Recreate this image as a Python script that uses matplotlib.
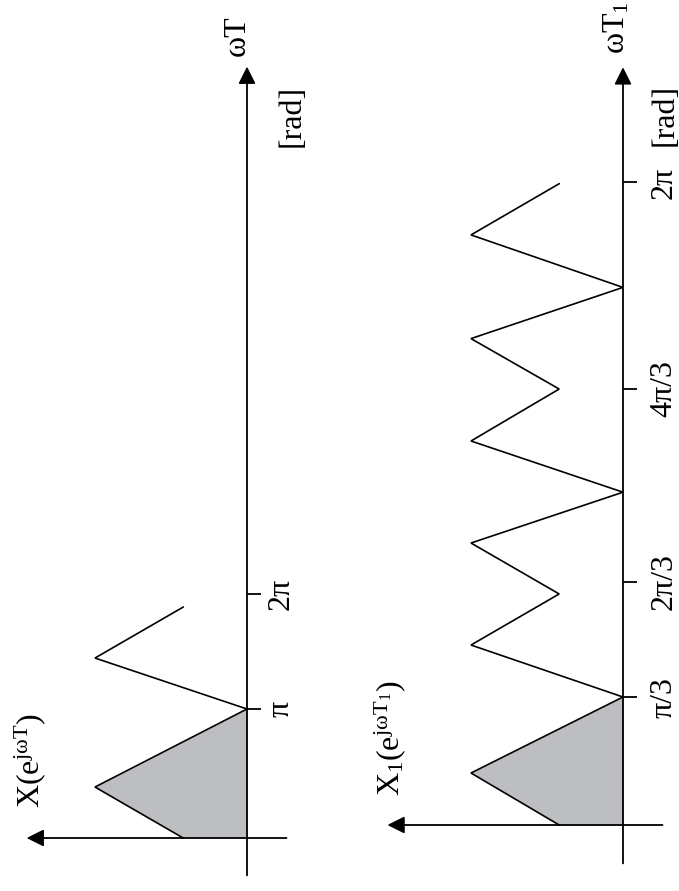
import matplotlib
matplotlib.use("Agg")
import matplotlib.pyplot as plt

plt.rcParams['font.family'] = ['Liberation Serif', 'DejaVu Serif']
plt.rcParams['mathtext.fontset'] = 'custom'
plt.rcParams['mathtext.rm'] = 'Liberation Serif'
plt.rcParams['mathtext.it'] = 'Liberation Serif:italic'

# sketch units: omega axis in units of the first tick, amplitude normalised to peak = 1
omega_a = [0, 0.395, 1.0, 1.395, 1.79]
amp_a = [0.42, 1.0, 0.0, 1.0, 0.42]
ticks_a = [1.0, 1.89]
tick_labels_a = ['π', '2π']

omega_b = [0, 0.406, 1.0, 1.406, 1.805, 2.203, 2.60, 3.0, 3.406, 3.80, 4.20, 4.61, 5.01]
amp_b = [0.42, 1.0, 0.0, 1.0, 0.42, 1.0, 0.0, 1.0, 0.42, 1.0, 0.0, 1.0, 0.42]
ticks_b = [1.0, 1.90, 3.41, 5.02]
tick_labels_b = ['π/3', '2π/3', '4π/3', '2π']

W, H = 679, 891
fig = plt.figure(figsize=(W / 100, H / 100), dpi=100)
GRAY = '#bdbec1'
FS = 23


def panel(x0, x1, ox, oy, sx, sy):
    ax = fig.add_axes([x0 / W, 0, (x1 - x0) / W, 1])
    ax.set_xlim((ox - x0) / sx, (ox - x1) / sx)
    ax.set_ylim((oy - H) / sy, oy / sy)
    ax.axis('off')
    return ax


def draw(ax, omega, amp, ticks, labels, ylab, xlab, top, bottom, right, left, lab_off, ylab_pos, xlab_pos, rad_pos):
    n = omega.index(1.0) + 1
    ax.fill_betweenx(omega[:n], 0, amp[:n], color=GRAY, lw=0)
    ax.plot(amp, omega, color='black', lw=1.2, solid_joinstyle='miter')
    arrow = dict(arrowstyle='-|>', mutation_scale=26, lw=1.3, color='black',
                 shrinkA=0, shrinkB=0)
    ax.annotate('', xy=(0, top), xytext=(0, bottom), arrowprops=arrow)
    ax.annotate('', xy=(left, 0), xytext=(right, 0), arrowprops=arrow)
    ax.hlines(ticks, -0.092, 0, color='black', lw=1.3)
    for t, s in zip(ticks, labels):
        ax.text(lab_off, t, s, rotation=90, ha='center', va='center', fontsize=FS)
    ax.text(*ylab_pos, ylab, rotation=90, ha='center', va='center', fontsize=FS)
    ax.text(*xlab_pos, xlab, rotation=90, ha='center', va='center', fontsize=FS)
    ax.text(*rad_pos, '[rad]', rotation=90, ha='center', va='center', fontsize=FS)


ax1 = panel(0, 330, 247, 838, 152, 129)
draw(ax1, omega_a, amp_a, ticks_a, tick_labels_a,
     r'X(e$^{\mathrm{jωT}}$)', 'ωT',
     top=5.98, bottom=-0.29, right=-0.26, left=1.45, lab_off=-0.225,
     ylab_pos=(1.43, 0.60), xlab_pos=(0.066, 6.22), rad_pos=(-0.296, 5.60))

ax2 = panel(330, 679, 623, 825, 152, 128)
draw(ax2, omega_b, amp_b, ticks_b, tick_labels_b,
     r'X$_1$(e$^{\mathrm{jωT_1}}$)', r'ωT$_1$',
     top=5.92, bottom=-0.30, right=-0.26, left=1.55, lab_off=-0.27,
     ylab_pos=(1.53, 0.68), xlab_pos=(0.04, 6.23), rad_pos=(-0.276, 5.55))

fig.savefig('out.png', dpi=100)
